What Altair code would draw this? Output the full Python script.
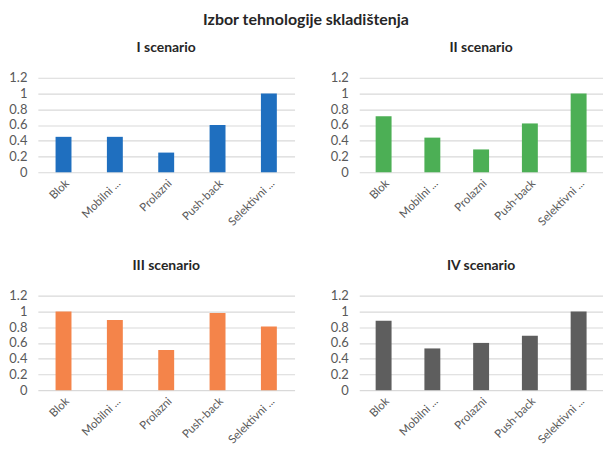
import altair as alt
import pandas as pd

categories = ["Blok", "Mobilni ...", "Prolazni", "Push-back", "Selektivni ..."]
scen_titles = ["I scenario", "II scenario", "III scenario", "IV scenario"]
values_I = [0.45, 0.45, 0.25, 0.60, 1.00]
values_II = [0.71, 0.44, 0.29, 0.62, 1.00]
values_III = [1.00, 0.89, 0.51, 0.98, 0.81]
values_IV = [0.88, 0.53, 0.60, 0.69, 1.00]
colors = ["#1F6FBF", "#4CAF55", "#F4844A", "#5E5E5E"]
y_ticks = [0, 0.2, 0.4, 0.6, 0.8, 1.0, 1.2]

FONT = "Lato"
all_vals = [values_I, values_II, values_III, values_IV]


def panel(title, vals, color, width):
    df = pd.DataFrame({"category": categories, "value": vals})
    return alt.Chart(df, title=alt.TitleParams(
        title, fontSize=14, fontWeight="bold", color="#262626", font=FONT,
        anchor="middle", offset=17)).mark_bar(color=color, size=16).encode(
        x=alt.X("category:N", sort=categories, title=None,
                axis=alt.Axis(labelAngle=-45, labelFontSize=11.5, labelColor="#595959",
                              labelFont=FONT, ticks=False, domain=False, grid=False,
                              labelPadding=5)),
        y=alt.Y("value:Q", title=None, scale=alt.Scale(domain=[0, 1.2], nice=False),
                axis=alt.Axis(values=y_ticks, format="~g", labelFontSize=13,
                              labelColor="#595959", labelFont=FONT, ticks=False,
                              domain=False, gridColor="#D9D9D9", gridWidth=1.2,
                              labelPadding=11)),
    ).properties(width=width, height=95)


p = [panel(scen_titles[i], all_vals[i], colors[i], 258 if i % 2 == 0 else 245) for i in range(4)]

chart = alt.vconcat(
    alt.hconcat(p[0], p[1], spacing=35),
    alt.hconcat(p[2], p[3], spacing=35),
    spacing=31,
).properties(
    title=alt.TitleParams("Izbor tehnologije skladištenja", fontSize=16, fontWeight="bold",
                          color="#262626", font=FONT, anchor="middle", offset=13),
    padding={"left": 0, "top": 3, "right": 0, "bottom": 0},
).configure_view(stroke=None)

chart.save("out.html", embed_options={"renderer": "svg", "actions": False})
